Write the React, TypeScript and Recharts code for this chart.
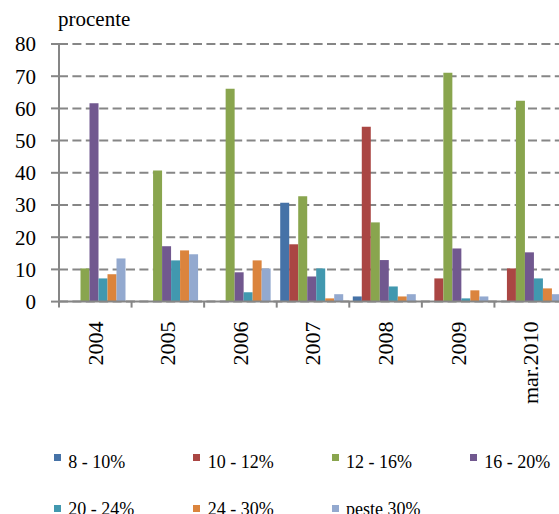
import React from 'react';
import { BarChart, Bar, XAxis, YAxis, CartesianGrid, Legend } from 'recharts';

const categories = ['2004', '2005', '2006', '2007', '2008', '2009', 'mar.2010'];
const s8to10 = [0, 0, 0, 30.7, 1.6, 0, 0];
const s10to12 = [0, 0, 0, 17.8, 54.3, 7.2, 10.3];
const s12to16 = [10.3, 40.7, 66.1, 32.7, 24.6, 71.1, 62.4];
const s16to20 = [61.6, 17.2, 9.1, 7.8, 12.9, 16.5, 15.3];
const s20to24 = [7.2, 12.8, 2.9, 10.3, 4.7, 1.0, 7.2];
const s24to30 = [8.5, 15.9, 12.8, 1.0, 1.6, 3.5, 4.1];
const sPeste30 = [13.4, 14.7, 10.3, 2.3, 2.3, 1.6, 2.3];
const yTicks = [0, 10, 20, 30, 40, 50, 60, 70, 80];

const seriesNames = ['8 - 10%', '10 - 12%', '12 - 16%', '16 - 20%', '20 - 24%', '24 - 30%', 'peste 30%'];
const seriesValues = [s8to10, s10to12, s12to16, s16to20, s20to24, s24to30, sPeste30];
const seriesKeys = ['a', 'b', 'c', 'd', 'e', 'f', 'g'];
const colors = ['#4572A7', '#AA4643', '#89A54E', '#71588F', '#4198AF', '#DB843D', '#93A9CF'];

const data = categories.map((cat, i) => {
  const row: Record<string, any> = { cat };
  seriesKeys.forEach((k, j) => {
    row[k] = seriesValues[j][i];
  });
  return row;
});

const FONT = "'Liberation Serif', 'DejaVu Serif', serif";
const GRAY = '#868686';

const XTick = (props: any) => {
  const { x, y, payload } = props;
  const half = payload && payload.offset ? payload.offset : 36.3;
  const bx = x - half;
  return (
    <g>
      <line x1={bx} y1={y} x2={bx} y2={y + 6} stroke={GRAY} strokeWidth={2} />
      <text
        x={x}
        y={y + 20}
        transform={`rotate(-90, ${x}, ${y + 20})`}
        textAnchor="end"
        dy="0.34em"
        style={{ fontFamily: FONT }}
        fontSize={22}
        fill="#000"
      >
        {payload.value}
      </text>
    </g>
  );
};

const legendPos = [
  { sq: 46, tx: 60.3, row: 0 },
  { sq: 185.3, tx: 199.7, row: 0 },
  { sq: 323.7, tx: 338, row: 0 },
  { sq: 462, tx: 476.3, row: 0 },
  { sq: 46, tx: 60.3, row: 1 },
  { sq: 185.3, tx: 199.7, row: 1 },
  { sq: 323.7, tx: 338, row: 1 },
];

const renderLegend = () => (
  <div style={{ position: 'relative', width: 576, height: 90 }}>
    {seriesNames.map((name, i) => {
      const p = legendPos[i];
      const sqTop = p.row === 0 ? 6 : 57;
      const txTop = p.row === 0 ? 4.5 : 52;
      return (
        <React.Fragment key={name}>
          <div
            style={{
              position: 'absolute',
              left: p.sq,
              top: sqTop,
              width: 7,
              height: 7,
              background: colors[i],
            }}
          />
          <span
            style={{
              position: 'absolute',
              left: p.tx,
              top: txTop,
              fontFamily: FONT,
              fontSize: 18,
              lineHeight: '18px',
              whiteSpace: 'nowrap',
              color: '#000',
            }}
          >
            {name}
          </span>
        </React.Fragment>
      );
    })}
  </div>
);

const YLabel = (props: any) => {
  const vb = props.viewBox || { x: 0, y: 36, width: 51, height: 257 };
  return (
    <text x={vb.x + vb.width - 1} y={vb.y - 18} style={{ fontFamily: FONT }} fontSize={21} fill="#000">
      procente
    </text>
  );
};

export default function App() {
  return (
    <div
      style={{
        position: 'fixed',
        left: 8,
        top: 8,
        width: 551,
        height: 506,
        overflow: 'hidden',
        background: '#fff',
        fontFamily: FONT,
      }}
    >
      <BarChart
        width={576}
        height={530}
        data={data}
        margin={{ top: 36, right: 17, bottom: 0, left: 0 }}
        barCategoryGap={3.5}
        barGap={0}
        style={{ fontFamily: FONT }}
      >
        <CartesianGrid
          vertical={false}
          stroke={GRAY}
          strokeWidth={2}
          strokeDasharray="9 4.4"
        />
        <XAxis
          dataKey="cat"
          height={146.4}
          interval={0}
          tickSize={0}
          tickMargin={0}
          tickLine={false}
          axisLine={{ stroke: GRAY, strokeWidth: 2 }}
          tick={<XTick />}
        />
        <YAxis
          width={51}
          domain={[0, 80]}
          ticks={yTicks}
          interval={0}
          tickSize={8}
          tickMargin={15}
          tickLine={{ stroke: GRAY, strokeWidth: 2 }}
          axisLine={{ stroke: GRAY, strokeWidth: 2 }}
          tick={{ style: { fontFamily: FONT }, fontSize: 21, fill: '#000' }}
          label={<YLabel />}
        />
        <Legend
          verticalAlign="bottom"
          content={renderLegend}
          wrapperStyle={{ left: 0, width: 576, height: 90 }}
        />
        {seriesKeys.map((k, i) => (
          <Bar
            key={k}
            dataKey={k}
            name={seriesNames[i]}
            fill={colors[i]}
            isAnimationActive={false}
          />
        ))}
      </BarChart>
    </div>
  );
}
